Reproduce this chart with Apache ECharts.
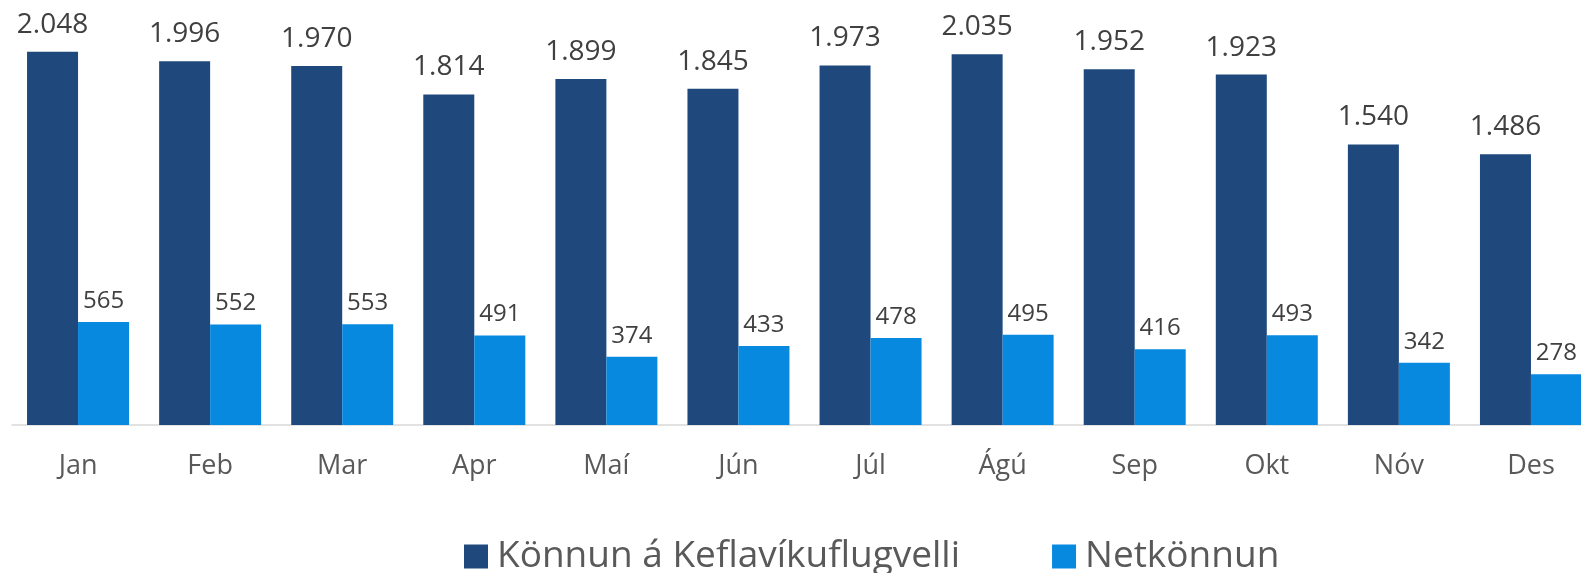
<!DOCTYPE html>
<html>
<head>
<meta charset="utf-8">
<script src="https://cdn.jsdelivr.net/npm/echarts@6/dist/echarts.min.js"></script>
<style>
  html, body { margin: 0; padding: 0; background: #fff; }
  #chart { width: 1581px; height: 573px; }
</style>
</head>
<body>
<div id="chart"></div>
<script>
// mánuðir
const months = ['Jan', 'Feb', 'Mar', 'Apr', 'Maí', 'Jún', 'Júl', 'Ágú', 'Sep', 'Okt', 'Nóv', 'Des']
// Könnun á Keflavíkuflugvelli
const airportSurvey = [2048, 1996, 1970, 1814, 1899, 1845, 1973, 2035, 1952, 1923, 1540, 1486]
// Netkönnun
const webSurvey = [565, 552, 553, 491, 374, 433, 478, 495, 416, 493, 342, 278]

const seriesNames = ['Könnun á Keflavíkuflugvelli', 'Netkönnun']
const font = '"Open Sans", "Noto Sans", sans-serif'

// 2048 -> 2.048
function dotThousands(v) {
  return String(v).replace(/\B(?=(\d{3})+(?!\d))/g, '.')
}

const chart = echarts.init(document.getElementById('chart'))
chart.setOption({
  animation: false,
  textStyle: { fontFamily: font },
  // hægri brún klippt eins og í frummyndinni
  grid: { left: 12, right: -16, top: 15, bottom: 148, containLabel: false, outerBoundsMode: 'none' },
  legend: {
    data: seriesNames,
    left: 459,
    top: 533,
    itemWidth: 24,
    itemHeight: 24,
    itemGap: 92,
    icon: 'rect',
    textStyle: { fontFamily: font, fontSize: 37, color: '#595959', padding: [0, 0, 0, 4] }
  },
  xAxis: {
    type: 'category',
    data: months,
    axisLine: { lineStyle: { color: '#d9d9d9', width: 1.5 } },
    axisTick: { show: false },
    axisLabel: { fontFamily: font, fontSize: 27, color: '#595959', margin: 28 }
  },
  yAxis: {
    type: 'value',
    min: 0,
    max: 2250,
    show: false,
    splitLine: { show: false }
  },
  series: [
    {
      name: seriesNames[0],
      type: 'bar',
      data: airportSurvey,
      barWidth: 51,
      barGap: '0%',
      itemStyle: { color: '#1f497d' },
      label: {
        show: true,
        position: 'top',
        distance: 13,
        fontFamily: font,
        fontSize: 28,
        color: '#404040',
        formatter: p => dotThousands(p.value)
      }
    },
    {
      name: seriesNames[1],
      type: 'bar',
      data: webSurvey,
      barWidth: 51,
      barGap: '0%',
      itemStyle: { color: '#0789e0' },
      label: {
        show: true,
        position: 'top',
        distance: 9,
        fontFamily: font,
        fontSize: 24,
        color: '#404040',
        formatter: p => dotThousands(p.value)
      }
    }
  ]
})
</script>
</body>
</html>
